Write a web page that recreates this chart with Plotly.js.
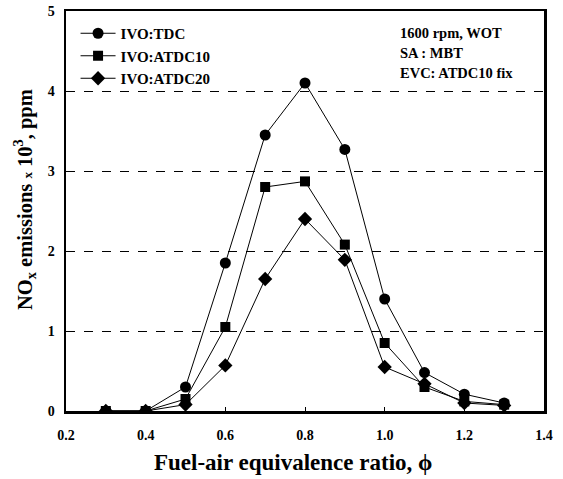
<!DOCTYPE html>
<html><head><meta charset="utf-8">
<script src="https://cdn.plot.ly/plotly-3.0.1.min.js"></script>
<style>html,body{margin:0;padding:0;background:#fff}#plot{width:563px;height:479px}</style>
</head><body><div id="plot"></div>
<script>
const phi = [0.3, 0.4, 0.5, 0.6, 0.7, 0.8, 0.9, 1.0, 1.1, 1.2, 1.3];
const ivoTDC = [0, 0, 0.30, 1.85, 3.45, 4.10, 3.27, 1.40, 0.48, 0.21, 0.10];
const ivoATDC10 = [0, 0, 0.15, 1.05, 2.80, 2.87, 2.08, 0.85, 0.30, 0.12, 0.08];
const ivoATDC20 = [0, 0, 0.08, 0.57, 1.65, 2.40, 1.89, 0.55, 0.34, 0.10, 0.07];
const seriesNames = ['IVO:TDC', 'IVO:ATDC10', 'IVO:ATDC20'];
const notes = ['1600 rpm, WOT', 'SA : MBT', 'EVC: ATDC10 fix'];
const xTicks = [0.2, 0.4, 0.6, 0.8, 1.0, 1.2, 1.4];
const xTickText = ['0.2', '0.4', '0.6', '0.8', '1.0', '1.2', '1.4'];
const yTicks = [0, 1, 2, 3, 4, 5];
const xTitle = 'Fuel-air equivalence ratio, ϕ';
const yTitle = 'NO<sub>x</sub> emissions <span style="font-size:13px">x</span> 10<sup>3</sup>, ppm';

const serif = 'Liberation Serif, Times New Roman, serif';
const mk = (sym, size) => ({symbol: sym, size: size, color: '#000'});
const traces = [
  {x: phi, y: ivoTDC, name: seriesNames[0], mode: 'lines+markers', line: {color: '#000', width: 1}, marker: mk('circle', 11)},
  {x: phi, y: ivoATDC10, name: seriesNames[1], mode: 'lines+markers', line: {color: '#000', width: 1}, marker: mk('square', 10)},
  {x: phi, y: ivoATDC20, name: seriesNames[2], mode: 'lines+markers', line: {color: '#000', width: 1}, marker: mk('diamond', 11)}
];
const layout = {
  width: 563, height: 479,
  margin: {l: 66, r: 19, t: 11, b: 68},
  paper_bgcolor: '#fff', plot_bgcolor: '#fff',
  font: {family: serif, color: '#000', size: 13},
  showlegend: true,
  legend: {x: 0.02, y: 0.985, xanchor: 'left', yanchor: 'top', bgcolor: 'rgba(0,0,0,0)',
           font: {family: serif, size: 15, weight: 'bold', color: '#000'}, itemwidth: 35, tracegroupgap: 0},
  xaxis: {range: [0.2, 1.4], tickvals: xTicks, ticktext: xTickText, showgrid: false, zeroline: false,
          showline: true, linewidth: 2.5, linecolor: '#000', mirror: true,
          ticks: 'inside', ticklen: 4, tickcolor: '#000', tickwidth: 1, ticklabelstandoff: 10,
          tickfont: {family: serif, size: 14, weight: 'bold'}},
  yaxis: {range: [0, 5], tickvals: yTicks, showgrid: true, gridcolor: '#000', griddash: 'dash', gridwidth: 1,
          zeroline: false, showline: true, linewidth: 2.5, linecolor: '#000', mirror: true, ticks: '',
          ticklabelstandoff: 6,
          tickfont: {family: serif, size: 14, weight: 'bold'}},
  annotations: notes.map((t, i) => ({text: t, xref: 'paper', yref: 'paper', x: 0.695, y: 0.946 - i * 0.051,
      xanchor: 'left', yanchor: 'middle', showarrow: false, font: {family: serif, size: 14.5, weight: 'bold', color: '#000'}}))
    .concat([
      {text: xTitle, xref: 'paper', yref: 'paper', x: 0.475, y: -0.13, xanchor: 'center', yanchor: 'middle',
       showarrow: false, font: {family: serif, size: 23, weight: 'bold', color: '#000'}},
      {text: yTitle, xref: 'paper', yref: 'paper', x: -0.088, y: 0.53, xanchor: 'center', yanchor: 'middle', textangle: -90,
       showarrow: false, font: {family: serif, size: 20.5, weight: 'bold', color: '#000'}}
    ])
};
Plotly.newPlot('plot', traces, layout, {displayModeBar: false, staticPlot: true});
</script></body></html>
